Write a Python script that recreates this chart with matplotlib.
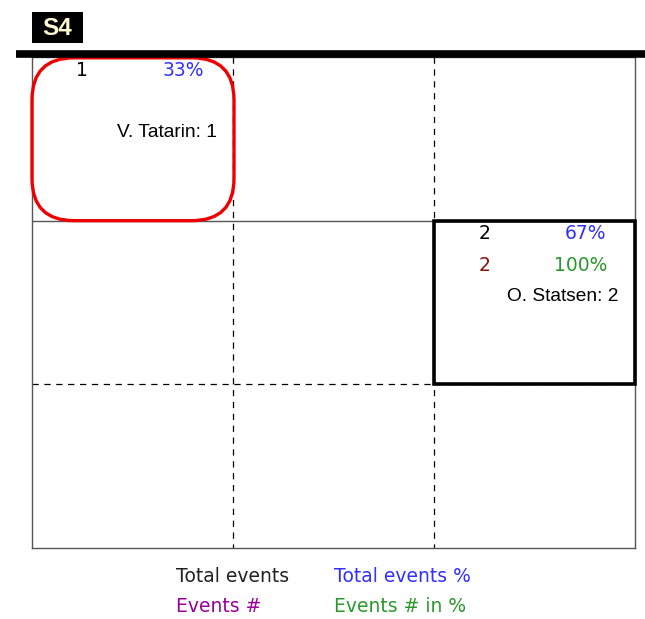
import matplotlib.pyplot as plt
from matplotlib.patches import FancyBboxPatch, Rectangle
from matplotlib.lines import Line2D

# cells with entries (row, col in the 3x3 grid)
names = ['V. Tatarin', 'O. Statsen']
cell_rows = [0, 1]
cell_cols = [0, 2]
total_events = [1, 2]
total_pct = [33, 67]
events = [None, 2]
events_pct = [None, 100]

legend_labels = ['Total events', 'Total events %', 'Events #', 'Events # in %']

BLUE = '#3030ff'
GREEN = '#2a982a'
DARKRED = '#8b1010'
PURPLE = '#990099'
GRID = '#555555'

W, H = 645, 619
fig = plt.figure(figsize=(W / 100, H / 100), dpi=100)
ax = fig.add_axes([32 / W, 1 - 548 / H, 603 / W, 491 / H])
ax.set_xlim(0, 3)
ax.set_ylim(3, 0)
ax.set_xticks([])
ax.set_yticks([])
for s in ax.spines.values():
    s.set_color(GRID)
    s.set_linewidth(1)

# grid lines
dash = (0, (5, 4.5))
ax.plot([0, 3], [1, 1], color=GRID, lw=1)
ax.plot([0, 3], [2, 2], color='black', lw=0.9, linestyle=dash)
for c in (1, 2):
    ax.plot([c, c], [0, 3], color='black', lw=0.9, linestyle=dash)

# highlight boxes
r = 0.21
aspect = (603 / 3) / (491 / 3)
red_box = FancyBboxPatch((0, 0.005), 1.005, 0.995, boxstyle='round,pad=0,rounding_size=%g' % r,
                         mutation_aspect=aspect, fill=False, edgecolor='#ee0000',
                         lw=2.4, clip_on=False, zorder=5)
ax.add_patch(red_box)
ax.add_patch(Rectangle((2, 1), 1, 1, fill=False, edgecolor='black', lw=2.6,
                       clip_on=False, zorder=5))

fs = 13.5
fs_name = 13.8
for i, name in enumerate(names):
    row, col = cell_rows[i], cell_cols[i]
    ax.text(col + 0.25, row + 0.08, str(total_events[i]), ha='center', va='center',
            fontsize=fs, color='black', family='DejaVu Sans')
    ax.text(col + 0.855, row + 0.08, '%d%%' % total_pct[i], ha='right', va='center',
            fontsize=fs, color=BLUE, family='DejaVu Sans')
    if events[i] is not None:
        ax.text(col + 0.25, row + 0.272, str(events[i]), ha='center', va='center',
                fontsize=fs, color=DARKRED, family='DejaVu Sans')
        ax.text(col + 0.865, row + 0.272, '%d%%' % events_pct[i], ha='right', va='center',
                fontsize=fs, color=GREEN, family='DejaVu Sans')
    ax.text(col + 0.92, row + 0.462, '%s: %d' % (name, total_events[i]), ha='right',
            va='center', fontsize=fs_name, color='black', family='Liberation Sans')

# thick top rule
fig.add_artist(Line2D([16 / W, 1], [1 - 53.5 / H, 1 - 53.5 / H], color='black', lw=5.5,
                      solid_capstyle='butt'))

# title tag
fig.add_artist(Rectangle((32 / W, 1 - 43 / H), 51 / W, 31 / H, facecolor='black',
                         edgecolor='none', transform=fig.transFigure))
fig.text(57.5 / W, 1 - 28.5 / H, 'S4', ha='center', va='center', fontsize=17.5,
         fontweight='bold', color='#fff8d0', family='Liberation Sans')

# legend
leg_colors = ['#222222', BLUE, PURPLE, GREEN]
leg_x = [176, 334, 176, 334]
leg_y = [577, 577, 606, 606]
for lab, c, x, y in zip(legend_labels, leg_colors, leg_x, leg_y):
    fig.text(x / W, 1 - y / H, lab, ha='left', va='center', fontsize=fs, color=c,
             family='DejaVu Sans')

fig.savefig('out.png', dpi=100)
